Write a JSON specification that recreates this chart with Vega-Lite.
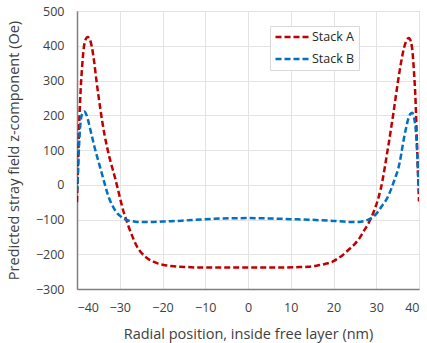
{
  "$schema": "https://vega.github.io/schema/vega-lite/v6.json",
  "width": 342,
  "height": 278,
  "autosize": "none",
  "padding": {"left": 77, "top": 11, "right": 8, "bottom": 54},
  "background": "white",
  "config": {
    "font": "Open Sans",
    "view": {"stroke": "#8c8c8c", "strokeWidth": 1},
    "axis": {
      "gridColor": "#e3e3e3",
      "gridWidth": 1,
      "domainColor": "#7f7f7f",
      "domainWidth": 1.5,
      "ticks": false,
      "labelColor": "#404040",
      "labelFontSize": 12.5,
      "titleColor": "#404040",
      "titleFontSize": 14.5,
      "titleFontWeight": "normal"
    }
  },
  "data": {
    "values": [
      {"x": -40, "y": -50, "s": "Stack A"},
      {"x": -39.8, "y": 40, "s": "Stack A"},
      {"x": -39.5, "y": 170, "s": "Stack A"},
      {"x": -39.2, "y": 260, "s": "Stack A"},
      {"x": -38.8, "y": 340, "s": "Stack A"},
      {"x": -38.4, "y": 395, "s": "Stack A"},
      {"x": -38, "y": 418, "s": "Stack A"},
      {"x": -37.5, "y": 425, "s": "Stack A"},
      {"x": -37, "y": 418, "s": "Stack A"},
      {"x": -36.5, "y": 395, "s": "Stack A"},
      {"x": -36, "y": 355, "s": "Stack A"},
      {"x": -35.5, "y": 305, "s": "Stack A"},
      {"x": -35, "y": 258, "s": "Stack A"},
      {"x": -34.5, "y": 215, "s": "Stack A"},
      {"x": -34, "y": 175, "s": "Stack A"},
      {"x": -33.5, "y": 140, "s": "Stack A"},
      {"x": -33, "y": 110, "s": "Stack A"},
      {"x": -32.5, "y": 83, "s": "Stack A"},
      {"x": -32, "y": 60, "s": "Stack A"},
      {"x": -31.5, "y": 38, "s": "Stack A"},
      {"x": -31, "y": 15, "s": "Stack A"},
      {"x": -30.5, "y": -10, "s": "Stack A"},
      {"x": -30, "y": -35, "s": "Stack A"},
      {"x": -29.5, "y": -60, "s": "Stack A"},
      {"x": -29, "y": -82, "s": "Stack A"},
      {"x": -28.5, "y": -100, "s": "Stack A"},
      {"x": -28, "y": -118, "s": "Stack A"},
      {"x": -27, "y": -150, "s": "Stack A"},
      {"x": -26, "y": -177, "s": "Stack A"},
      {"x": -25, "y": -195, "s": "Stack A"},
      {"x": -24, "y": -207, "s": "Stack A"},
      {"x": -23, "y": -216, "s": "Stack A"},
      {"x": -22, "y": -222, "s": "Stack A"},
      {"x": -21, "y": -227, "s": "Stack A"},
      {"x": -20, "y": -230, "s": "Stack A"},
      {"x": -18, "y": -234, "s": "Stack A"},
      {"x": -16, "y": -236, "s": "Stack A"},
      {"x": -14, "y": -237, "s": "Stack A"},
      {"x": -12, "y": -238, "s": "Stack A"},
      {"x": -8, "y": -238, "s": "Stack A"},
      {"x": -4, "y": -238, "s": "Stack A"},
      {"x": 0, "y": -238, "s": "Stack A"},
      {"x": 4, "y": -238, "s": "Stack A"},
      {"x": 8, "y": -238, "s": "Stack A"},
      {"x": 12, "y": -237, "s": "Stack A"},
      {"x": 14, "y": -236, "s": "Stack A"},
      {"x": 16, "y": -233, "s": "Stack A"},
      {"x": 18, "y": -228, "s": "Stack A"},
      {"x": 20, "y": -220, "s": "Stack A"},
      {"x": 21, "y": -212, "s": "Stack A"},
      {"x": 22, "y": -204, "s": "Stack A"},
      {"x": 23, "y": -193, "s": "Stack A"},
      {"x": 24, "y": -182, "s": "Stack A"},
      {"x": 25, "y": -170, "s": "Stack A"},
      {"x": 26, "y": -155, "s": "Stack A"},
      {"x": 27, "y": -135, "s": "Stack A"},
      {"x": 28, "y": -115, "s": "Stack A"},
      {"x": 28.5, "y": -103, "s": "Stack A"},
      {"x": 29, "y": -90, "s": "Stack A"},
      {"x": 29.5, "y": -75, "s": "Stack A"},
      {"x": 30, "y": -58, "s": "Stack A"},
      {"x": 30.5, "y": -38, "s": "Stack A"},
      {"x": 31, "y": -15, "s": "Stack A"},
      {"x": 31.5, "y": 15, "s": "Stack A"},
      {"x": 32, "y": 50, "s": "Stack A"},
      {"x": 32.5, "y": 88, "s": "Stack A"},
      {"x": 33, "y": 125, "s": "Stack A"},
      {"x": 33.5, "y": 165, "s": "Stack A"},
      {"x": 34, "y": 205, "s": "Stack A"},
      {"x": 34.5, "y": 248, "s": "Stack A"},
      {"x": 35, "y": 290, "s": "Stack A"},
      {"x": 35.5, "y": 330, "s": "Stack A"},
      {"x": 36, "y": 365, "s": "Stack A"},
      {"x": 36.5, "y": 394, "s": "Stack A"},
      {"x": 37, "y": 413, "s": "Stack A"},
      {"x": 37.6, "y": 422, "s": "Stack A"},
      {"x": 38.1, "y": 412, "s": "Stack A"},
      {"x": 38.5, "y": 380, "s": "Stack A"},
      {"x": 38.8, "y": 330, "s": "Stack A"},
      {"x": 39.2, "y": 240, "s": "Stack A"},
      {"x": 39.5, "y": 130, "s": "Stack A"},
      {"x": 39.8, "y": 20, "s": "Stack A"},
      {"x": 40, "y": -48, "s": "Stack A"},

      {"x": -40, "y": -20, "s": "Stack B"},
      {"x": -39.85, "y": 10, "s": "Stack B"},
      {"x": -39.6, "y": 90, "s": "Stack B"},
      {"x": -39.3, "y": 160, "s": "Stack B"},
      {"x": -39, "y": 195, "s": "Stack B"},
      {"x": -38.6, "y": 208, "s": "Stack B"},
      {"x": -38.3, "y": 211, "s": "Stack B"},
      {"x": -38, "y": 207, "s": "Stack B"},
      {"x": -37.5, "y": 190, "s": "Stack B"},
      {"x": -37, "y": 165, "s": "Stack B"},
      {"x": -36.5, "y": 139, "s": "Stack B"},
      {"x": -36, "y": 113, "s": "Stack B"},
      {"x": -35.5, "y": 90, "s": "Stack B"},
      {"x": -35, "y": 68, "s": "Stack B"},
      {"x": -34.5, "y": 46, "s": "Stack B"},
      {"x": -34, "y": 24, "s": "Stack B"},
      {"x": -33.5, "y": 2, "s": "Stack B"},
      {"x": -33, "y": -20, "s": "Stack B"},
      {"x": -32.5, "y": -38, "s": "Stack B"},
      {"x": -32, "y": -53, "s": "Stack B"},
      {"x": -31.5, "y": -65, "s": "Stack B"},
      {"x": -31, "y": -75, "s": "Stack B"},
      {"x": -30.5, "y": -83, "s": "Stack B"},
      {"x": -30, "y": -89, "s": "Stack B"},
      {"x": -29.5, "y": -94, "s": "Stack B"},
      {"x": -29, "y": -98, "s": "Stack B"},
      {"x": -28, "y": -103, "s": "Stack B"},
      {"x": -27, "y": -105, "s": "Stack B"},
      {"x": -26, "y": -107, "s": "Stack B"},
      {"x": -24, "y": -107, "s": "Stack B"},
      {"x": -22, "y": -107, "s": "Stack B"},
      {"x": -20, "y": -106, "s": "Stack B"},
      {"x": -18, "y": -105, "s": "Stack B"},
      {"x": -15, "y": -103, "s": "Stack B"},
      {"x": -11, "y": -100, "s": "Stack B"},
      {"x": -6, "y": -97, "s": "Stack B"},
      {"x": 0, "y": -96, "s": "Stack B"},
      {"x": 5, "y": -97, "s": "Stack B"},
      {"x": 10, "y": -99, "s": "Stack B"},
      {"x": 15, "y": -101, "s": "Stack B"},
      {"x": 20, "y": -104, "s": "Stack B"},
      {"x": 24, "y": -107, "s": "Stack B"},
      {"x": 26, "y": -107, "s": "Stack B"},
      {"x": 27, "y": -105, "s": "Stack B"},
      {"x": 28, "y": -101, "s": "Stack B"},
      {"x": 29, "y": -95, "s": "Stack B"},
      {"x": 29.5, "y": -90, "s": "Stack B"},
      {"x": 30, "y": -84, "s": "Stack B"},
      {"x": 30.5, "y": -76, "s": "Stack B"},
      {"x": 31, "y": -67, "s": "Stack B"},
      {"x": 31.5, "y": -58, "s": "Stack B"},
      {"x": 32, "y": -50, "s": "Stack B"},
      {"x": 32.5, "y": -40, "s": "Stack B"},
      {"x": 33, "y": -27, "s": "Stack B"},
      {"x": 33.5, "y": -12, "s": "Stack B"},
      {"x": 34, "y": 5, "s": "Stack B"},
      {"x": 34.5, "y": 22, "s": "Stack B"},
      {"x": 35, "y": 40, "s": "Stack B"},
      {"x": 35.5, "y": 65, "s": "Stack B"},
      {"x": 36, "y": 100, "s": "Stack B"},
      {"x": 36.5, "y": 135, "s": "Stack B"},
      {"x": 37, "y": 165, "s": "Stack B"},
      {"x": 37.5, "y": 190, "s": "Stack B"},
      {"x": 38, "y": 204, "s": "Stack B"},
      {"x": 38.4, "y": 207, "s": "Stack B"},
      {"x": 38.8, "y": 195, "s": "Stack B"},
      {"x": 39.2, "y": 163, "s": "Stack B"},
      {"x": 39.5, "y": 110, "s": "Stack B"},
      {"x": 39.8, "y": 30, "s": "Stack B"},
      {"x": 40, "y": -20, "s": "Stack B"}
    ]
  },
  "mark": {"type": "line", "strokeWidth": 2.5, "strokeDash": [6, 3], "interpolate": "monotone", "clip": true},
  "encoding": {
    "x": {
      "field": "x", "type": "quantitative",
      "scale": {"domain": [-40, 40], "nice": false},
      "axis": {"values": [-40, -30, -20, -10, 0, 10, 20, 30, 40], "labelPadding": 12, "title": "Radial position, inside free layer (nm)", "titlePadding": 14}
    },
    "y": {
      "field": "y", "type": "quantitative",
      "scale": {"domain": [-300, 500], "nice": false},
      "axis": {"values": [-300, -200, -100, 0, 100, 200, 300, 400, 500], "labelPadding": 13, "title": "Predicted stray field z-component (Oe)", "titlePadding": 14}
    },
    "color": {
      "field": "s", "type": "nominal",
      "scale": {"domain": ["Stack A", "Stack B"], "range": ["#C00000", "#0070C0"]},
      "legend": {
        "title": null,
        "orient": "none",
        "legendX": 193,
        "legendY": 15,
        "strokeColor": "#d9d9d9",
        "fillColor": "white",
        "padding": 4,
        "symbolType": "M-1,0H5",
        "symbolSize": 121,
        "symbolStrokeWidth": 2.5,
        "symbolDash": [6, 3],
        "labelFontSize": 12.5,
        "labelColor": "#262626",
        "labelOffset": 24,
        "rowPadding": 8
      }
    }
  }
}
